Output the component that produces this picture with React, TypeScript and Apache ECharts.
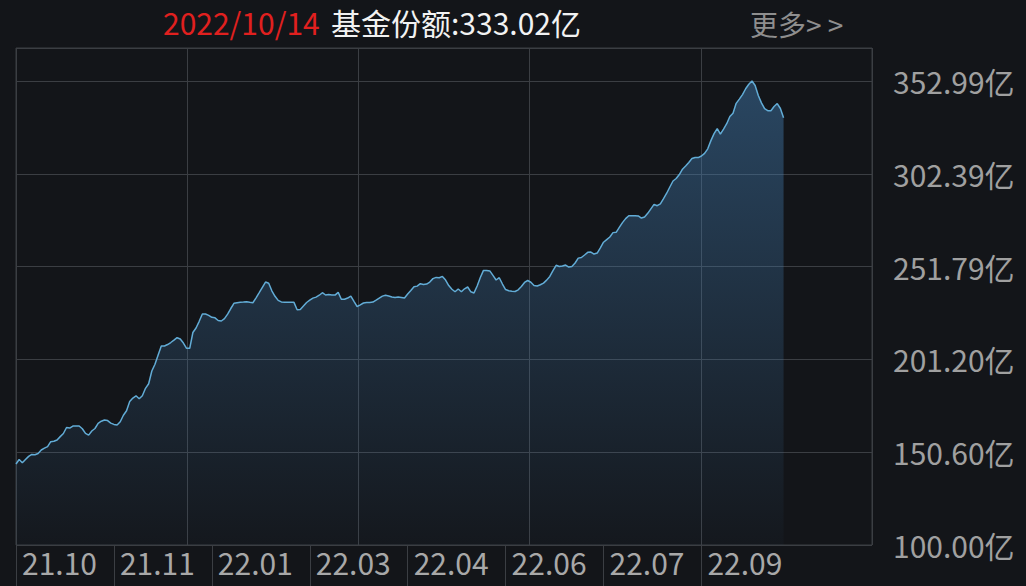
import React, { useEffect, useRef } from "react";
import * as echarts from "echarts";

// ---- data ----
const START_DATE = "2021-10-14";
const END_DATE = "2022-10-14";
const HOLIDAYS = [
  "2022-01-03", "2022-01-31", "2022-02-01", "2022-02-02", "2022-02-03", "2022-02-04",
  "2022-04-04", "2022-04-05", "2022-05-02", "2022-05-03", "2022-05-04", "2022-06-03",
  "2022-09-12", "2022-10-03", "2022-10-04", "2022-10-05", "2022-10-06", "2022-10-07",
];

// fund shares (亿份), one per trading day
const shares = [
  144.16, 146.62, 144.87, 146.62, 148.31, 149.40, 149.18, 149.89, 151.80, 152.78,
  153.65, 156.32, 156.54, 157.25, 159.10, 160.79, 164.07, 163.79, 164.88, 164.88,
  164.88, 163.41, 160.85, 159.92, 162.16, 163.52, 166.36, 167.50, 168.16, 167.83,
  166.47, 165.76, 165.43, 167.23, 170.77, 173.17, 178.24, 180.15, 181.35, 179.77,
  181.40, 185.44, 187.95, 194.87, 198.58, 203.60, 208.50, 208.50, 209.32, 210.41,
  211.67, 213.03, 212.32, 210.14, 207.25, 207.25, 215.86, 218.32, 221.97, 225.95,
  225.95, 225.24, 224.15, 223.88, 222.41, 222.13, 223.44, 225.90, 228.95, 231.78,
  232.06, 232.33, 232.49, 232.66, 232.38, 232.11, 234.78, 237.62, 240.51, 243.40,
  242.69, 238.60, 235.60, 233.37, 232.55, 232.33, 232.33, 232.33, 232.30, 228.30,
  228.46, 230.37, 232.22, 233.47, 234.62, 235.17, 236.20, 237.56, 236.31, 236.53,
  236.37, 236.26, 237.78, 233.97, 233.97, 234.67, 235.76, 232.87, 230.04, 230.91,
  231.95, 232.17, 232.28, 232.49, 233.53, 234.62, 235.71, 236.15, 235.76, 235.22,
  234.95, 235.28, 235.00, 234.67, 236.86, 238.76, 240.78, 241.16, 242.47, 242.04,
  242.31, 243.40, 245.25, 245.91, 245.74, 246.45, 244.49, 241.44, 239.47, 238.11,
  239.58, 238.06, 239.69, 240.67, 238.06, 237.45, 241.22, 245.85, 249.72, 249.72,
  249.45, 247.00, 244.49, 245.74, 242.31, 239.31, 238.60, 238.33, 238.22, 239.15,
  241.00, 243.18, 244.22, 243.29, 241.54, 241.22, 241.93, 242.80, 244.43, 246.45,
  249.61, 252.50, 251.85, 252.12, 252.67, 251.58, 251.90, 253.76, 256.43, 256.76,
  258.12, 259.59, 259.76, 258.67, 259.21, 262.05, 265.10, 266.52, 267.93, 270.33,
  270.50, 273.17, 275.79, 277.97, 279.55, 279.55, 279.55, 279.44, 278.29, 278.84,
  280.86, 283.31, 285.77, 285.00, 286.04, 288.87, 291.82, 295.20, 298.47, 299.83,
  302.01, 304.90, 306.65, 308.61, 310.74, 311.34, 311.23, 312.10, 313.57, 316.03,
  320.50, 324.31, 327.09, 324.09, 326.82, 329.71, 333.64, 335.43, 340.83, 343.13,
  345.58, 348.79, 351.25, 352.99, 350.54, 345.09, 341.10, 337.89, 336.80, 336.80,
  339.14, 340.72, 338.00, 333.02,
];

const xLabels = ["21.10", "21.11", "22.01", "22.03", "22.04", "22.06", "22.07", "22.09"];
const LABEL_STEP = 31; // trading days between x labels
const AXIS_SLOTS = 272; // axis continues past the last trading day
const Y_MIN = 100;
const Y_SPLITS = 5;

function fmt(d: Date) {
  const m = String(d.getMonth() + 1).padStart(2, "0");
  const dd = String(d.getDate()).padStart(2, "0");
  return `${d.getFullYear()}-${m}-${dd}`;
}

function tradingDays(start: string, end: string, holidays: string[]) {
  const [sy, sm, sd] = start.split("-").map(Number);
  const [ey, em, ed] = end.split("-").map(Number);
  const d = new Date(sy, sm - 1, sd);
  const e = new Date(ey, em - 1, ed);
  const out: string[] = [];
  while (d <= e) {
    const wd = d.getDay();
    const s = fmt(d);
    if (wd !== 0 && wd !== 6 && !holidays.includes(s)) out.push(s);
    d.setDate(d.getDate() + 1);
  }
  return out;
}

const dates = tradingDays(START_DATE, END_DATE, HOLIDAYS);
const categories = Array.from({ length: AXIS_SLOTS }, (_, i) => dates[i] ?? "");

const FONT = "'Noto Sans CJK SC', 'Noto Sans', sans-serif";
const GRID_COLOR = "#3b3e43";

export default function App() {
  const ref = useRef<HTMLDivElement>(null);

  useEffect(() => {
    if (!ref.current) return;
    const chart = echarts.init(ref.current, undefined, { renderer: "svg" });

    const yMax = Math.max(...shares);
    const yStep = (yMax - Y_MIN) / Y_SPLITS;
    const axisTop = yMax + yStep * 0.356;
    const last = shares[shares.length - 1];
    const lastDate = dates[Math.min(dates.length, shares.length) - 1].replace(/-/g, "/");

    const showIdx = (i: number) => i % LABEL_STEP === 0 && i < shares.length;

    chart.setOption({
      animation: false,
      backgroundColor: "#131519",
      textStyle: { fontFamily: FONT },
      grid: {
        left: 16,
        right: 154,
        top: 48,
        bottom: 41,
        show: true,
        borderColor: GRID_COLOR,
        borderWidth: 1,
        backgroundColor: "transparent",
      },
      xAxis: [
        {
          type: "category",
          data: categories,
          boundaryGap: false,
          axisLine: { show: false },
          axisTick: {
            show: true,
            interval: showIdx,
            length: 41,
            lineStyle: { color: GRID_COLOR, width: 1 },
          },
          axisLabel: {
            interval: showIdx,
            formatter: (_v: string, i: number) => xLabels[i / LABEL_STEP] ?? "",
            align: "left",
            color: "#a8a8a8",
            fontSize: 30,
            fontFamily: FONT,
            margin: 2,
            padding: [0, 0, 0, 6],
          },
          splitLine: { show: false },
        },
        {
          type: "value",
          min: 0,
          max: 5,
          interval: 1,
          position: "top",
          axisLine: { show: false },
          axisTick: { show: false },
          axisLabel: { show: false },
          splitLine: { show: true, lineStyle: { color: GRID_COLOR, width: 1 } },
        },
      ],
      yAxis: {
        type: "value",
        position: "right",
        min: Y_MIN,
        max: axisTop,
        interval: yStep,
        axisLine: { show: false },
        axisTick: { show: false },
        splitLine: { show: true, lineStyle: { color: GRID_COLOR, width: 1 } },
        axisLabel: {
          formatter: (v: number) => (v > yMax + 0.01 ? "" : v.toFixed(2) + "亿"),
          color: "#a0a0a0",
          fontSize: 30,
          fontFamily: FONT,
          margin: 21,
          align: "left",
          showMinLabel: true,
          showMaxLabel: false,
        },
      },
      series: [
        {
          type: "line",
          xAxisIndex: 0,
          data: shares,
          showSymbol: false,
          symbol: "none",
          lineStyle: { color: "#62acd6", width: 1.5 },
          areaStyle: {
            color: new echarts.graphic.LinearGradient(0, 0, 0, 1, [
              { offset: 0, color: "rgba(69,131,187,0.64)" },
              { offset: 1, color: "rgba(69,131,187,0.04)" },
            ]),
          },
        },
      ],
      graphic: [
        {
          type: "text",
          x: 163,
          y: 22,
          style: {
            text: lastDate,
            fill: "#e0201f",
            font: `30px ${FONT}`,
            verticalAlign: "middle",
            align: "left",
          },
        },
        {
          type: "text",
          x: 331,
          y: 22,
          style: {
            text: `基金份额:${last.toFixed(2)}亿`,
            fill: "#f2f2f2",
            font: `30px ${FONT}`,
            verticalAlign: "middle",
            align: "left",
          },
        },
        {
          type: "text",
          x: 750,
          y: 24,
          style: {
            text: "更多> >",
            fill: "#8e8e8e",
            font: `28px ${FONT}`,
            verticalAlign: "middle",
            align: "left",
          },
        },
      ],
    });

    return () => chart.dispose();
  }, []);

  return (
    <div
      ref={ref}
      style={{
        position: "fixed",
        left: 0,
        top: 0,
        width: 1026,
        height: 586,
        background: "#131519",
      }}
    />
  );
}
